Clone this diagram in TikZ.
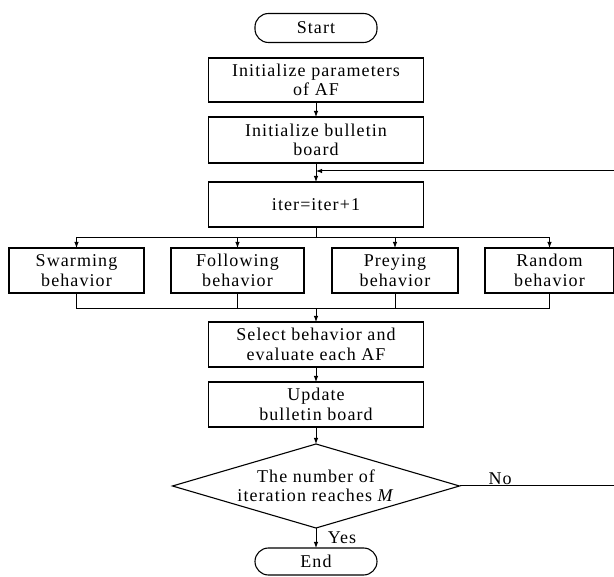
\documentclass[tikz,border=0pt]{standalone}
\usepackage{fontspec}
\setmainfont{Liberation Serif}[LetterSpace=6]
\usetikzlibrary{positioning, shapes, arrows.meta}

\begin{document}
\begin{tikzpicture}[x=1pt, y=-1pt, font=\fontsize{18}{19.5}\selectfont,
	box/.style={rectangle, draw, line width=1.1pt, align=center, inner sep=2pt, outer sep=0pt, minimum width=215pt, minimum height=45pt},
	term/.style={rectangle, rounded corners=13.5pt, draw, line width=1.1pt, outer sep=0pt, minimum width=122pt, minimum height=29pt, inner sep=2pt},
	beh/.style={box, minimum height=45pt},
	line/.style={line width=1pt},
	arr/.style={line, -{Latex[length=6pt,width=4.5pt]}}]
	
	\useasboundingbox (0,0) rectangle (614,577);
	
	\node[term] (start) at (316,28) {Start};
	\node[box, below=15.5pt of start, minimum height=44pt] (initpar) {Initialize parameters\\of AF};
	\node[box, below=15pt of initpar, minimum height=46pt] (initbul) {Initialize bulletin\\board};
	\node[box, below=19pt of initbul] (iter) {iter=iter+1};
	
	% four behaviours
	\node[beh, minimum width=135pt] (swarm) at (76.5,270.5) {Swarming\\behavior};
	\node[beh, minimum width=133pt] (follow) at (237.5,270.5) {Following\\behavior};
	\node[beh, minimum width=126pt] (prey) at (395,270.5) {Preying\\behavior};
	\node[beh, minimum width=129pt] (rand) at (549.5,270.5) {Random\\behavior};
	
	\node[box, below=95pt of iter] (select) {Select behavior and\\evaluate each AF};
	\node[box, below=15pt of select] (update) {Update\\bulletin board};
	\node[diamond, draw, line width=1.1pt, inner sep=0pt, outer sep=0pt, minimum width=287pt, minimum height=84pt, below=17pt of update] (check) {};
	\node[align=center] (checktext) at (check) {The number of\\iteration reaches \textit{M}};
	\node[term, below=20pt of check, minimum height=27pt] (end) {End};
	
	\coordinate (split) at (316,237.5);
	\coordinate (join) at (316,309);
	\coordinate (fbr) at (616,486);
	\coordinate (fbt) at (616,171);
	
	\draw[arr] (initpar) -- (initbul);
	\draw[arr] (initbul) -- (iter);
	\draw[line] (iter) -- (split);
	\draw[line] (swarm.north |- split) -- (rand.north |- split);
	\foreach \b in {swarm, follow, prey, rand}
		\draw[arr] (\b.north |- split) -- (\b.north);
	\draw[line] (swarm.south) -- (swarm.south |- join) -- (rand.south |- join) -- (rand.south);
	\draw[line] (follow.south) -- (follow.south |- join);
	\draw[line] (prey.south) -- (prey.south |- join);
	\draw[arr] (join) -- (select);
	\draw[arr] (select) -- (update);
	\draw[arr] (update) -- (check);
	\draw[arr] (check) -- node[right, xshift=8pt] {Yes} (end);
	\draw[arr] (check.east) -- node[above, pos=0.26, inner sep=1pt] {No} (check.east -| fbr) -- (fbt) -- (initbul.south |- fbt);
\end{tikzpicture}
\end{document}
